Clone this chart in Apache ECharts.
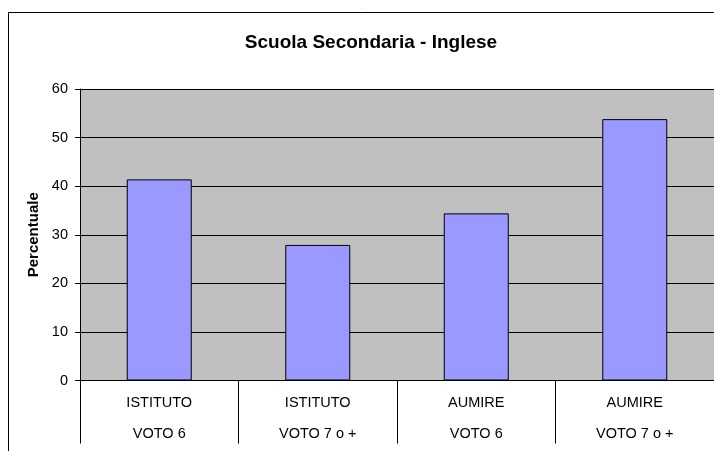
<!DOCTYPE html>
<html>
<head>
<meta charset="utf-8">
<script src="https://cdn.jsdelivr.net/npm/echarts@6/dist/echarts.min.js"></script>
<style>
html,body{margin:0;padding:0;background:#fff;}
#c{width:714px;height:451px;}
</style>
</head>
<body>
<div id="c"></div>
<script>
const groups = ['ISTITUTO', 'ISTITUTO', 'AUMIRE', 'AUMIRE'];
const subLabels = ['VOTO 6', 'VOTO 7 o +', 'VOTO 6', 'VOTO 7 o +'];
const values = [41.4, 27.9, 34.4, 53.8];
const yTicks = [0, 10, 20, 30, 40, 50, 60];

const categories = groups.map((g, i) => g + '\n' + subLabels[i]);
const font = 'Liberation Sans, Arial, sans-serif';

const chart = echarts.init(document.getElementById('c'));
chart.setOption({
  backgroundColor: '#ffffff',
  animation: false,
  title: {
    text: 'Scuola Secondaria - Inglese',
    left: 366, top: 28, textAlign: 'center',
    textStyle: { fontFamily: font, fontSize: 19, fontWeight: 'bold', color: '#000' }
  },
  graphic: [{
    type: 'rect', silent: true,
    shape: { x: 8.5, y: 12.5, width: 800, height: 600 },
    style: { fill: 'none', stroke: '#000', lineWidth: 1 }
  }],
  grid: {
    left: 80, top: 89, width: 637, bottom: 70.5,
    show: true, backgroundColor: '#C0C0C0', borderWidth: 0
  },
  xAxis: {
    type: 'category',
    data: categories,
    boundaryGap: true,
    axisLine: { show: true, lineStyle: { color: '#000', width: 1 } },
    axisTick: { show: true, interval: 0, length: 63, alignWithLabel: false, lineStyle: { color: '#000', width: 1 } },
    axisLabel: {
      interval: 0, margin: 7, lineHeight: 31,
      fontFamily: font, fontSize: 14.5, color: '#000'
    }
  },
  yAxis: {
    type: 'value',
    min: yTicks[0], max: yTicks[yTicks.length - 1], interval: 10,
    name: 'Percentuale',
    nameLocation: 'middle', nameGap: 39, nameRotate: 90,
    nameTextStyle: { fontFamily: font, fontSize: 15, fontWeight: 'bold', color: '#000' },
    axisLine: { show: true, lineStyle: { color: '#000', width: 1 } },
    axisTick: { show: true, length: 5, lineStyle: { color: '#000' } },
    axisLabel: { margin: 12, fontFamily: font, fontSize: 14.5, color: '#000' },
    splitLine: { show: true, lineStyle: { color: '#000', width: 1 } }
  },
  series: [{
    type: 'bar',
    data: values,
    barWidth: 65,
    itemStyle: { color: '#9999FF', borderColor: '#000', borderWidth: 1 }
  }]
});
</script>
</body>
</html>
